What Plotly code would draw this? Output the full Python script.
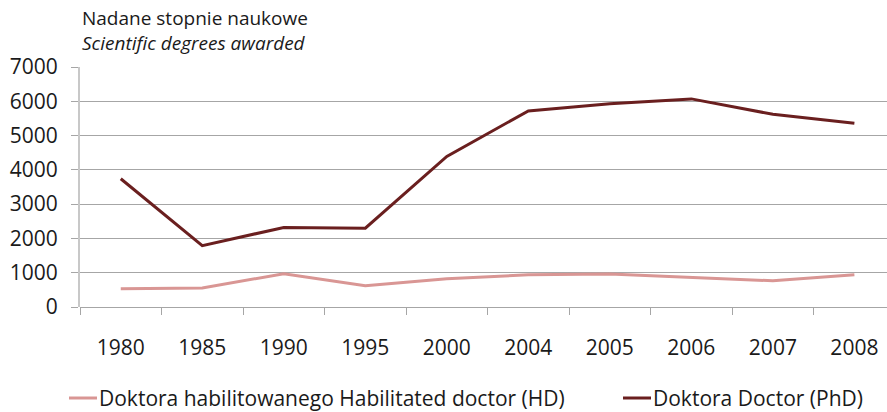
import plotly.graph_objects as go

years = ["1980", "1985", "1990", "1995", "2000", "2004", "2005", "2006", "2007", "2008"]
hd_values = [535, 555, 970, 620, 825, 940, 965, 865, 765, 940]
phd_values = [3740, 1790, 2320, 2300, 4390, 5720, 5930, 6070, 5620, 5360]

hd_name = "Doktora habilitowanego Habilitated doctor (HD)"
phd_name = "Doktora Doctor (PhD)"

FONT = "Open Sans"
GRID = "#A6A6A6"
TEXT = "#1a1a1a"
HD_COLOR = "#D99694"
PHD_COLOR = "#6A1F1F"

W, H = 887, 412
L, R, T, B = 80, 0, 67, 105
PW, PH = W - L - R, H - T - B


def px_x(x):
    # pixel column -> paper x
    return (x - L) / PW


def px_y(y):
    # pixel row -> paper y
    return (H - B - y) / PH


fig = go.Figure()
fig.add_trace(go.Scatter(x=years, y=hd_values, name=hd_name, mode="lines",
                         line=dict(color=HD_COLOR, width=3)))
fig.add_trace(go.Scatter(x=years, y=phd_values, name=phd_name, mode="lines",
                         line=dict(color=PHD_COLOR, width=3)))

# legend row: short colour key followed by the series name
legend_row = [(hd_name, HD_COLOR, 69, 97), (phd_name, PHD_COLOR, 623, 651)]
legend_y = 398
shapes, annotations = [], []
for name, color, x0, x1 in legend_row:
    shapes.append(dict(type="line", xref="paper", yref="paper",
                       x0=px_x(x0), x1=px_x(x1), y0=px_y(legend_y), y1=px_y(legend_y),
                       line=dict(color=color, width=3)))
    annotations.append(dict(text=name, xref="paper", yref="paper",
                            x=px_x(x1 + 1), y=px_y(legend_y), xanchor="left", yanchor="middle",
                            showarrow=False, borderpad=0,
                            font=dict(family=FONT, size=21, color=TEXT)))

annotations += [
    dict(text="Nadane stopnie naukowe", xref="paper", yref="paper",
         x=0.0, y=1.0, yshift=49, xanchor="left", yanchor="middle",
         showarrow=False, font=dict(family=FONT, size=19, color=TEXT)),
    dict(text="<i>Scientific degrees awarded</i>", xref="paper", yref="paper",
         x=0.0, y=1.0, yshift=24, xanchor="left", yanchor="middle",
         showarrow=False, font=dict(family=FONT, size=19, color=TEXT)),
]

fig.update_layout(
    width=W, height=H,
    margin=dict(l=L, r=R, t=T, b=B),
    paper_bgcolor="white", plot_bgcolor="white",
    font=dict(family=FONT, size=20, color=TEXT),
    showlegend=False,
    shapes=shapes,
    annotations=annotations,
)

fig.update_xaxes(
    type="category", range=[-0.5, 9.4],
    tickson="boundaries", ticks="outside", ticklen=7, tickcolor=GRID, tickwidth=1,
    showgrid=False, showline=False, zeroline=False,
    tickfont=dict(family=FONT, size=21, color=TEXT), ticklabelstandoff=26,
)
fig.update_yaxes(
    range=[0, 7000], tickvals=[0, 1000, 2000, 3000, 4000, 5000, 6000, 7000],
    showgrid=True, gridcolor=GRID, gridwidth=1,
    showline=True, linecolor="#C8C8C8", linewidth=2,
    ticks="outside", ticklen=7, tickcolor=GRID,
    zeroline=True, zerolinecolor=GRID, zerolinewidth=1,
    tickfont=dict(family=FONT, size=21, color=TEXT), ticklabelstandoff=9,
)

fig.write_html("out.html")
